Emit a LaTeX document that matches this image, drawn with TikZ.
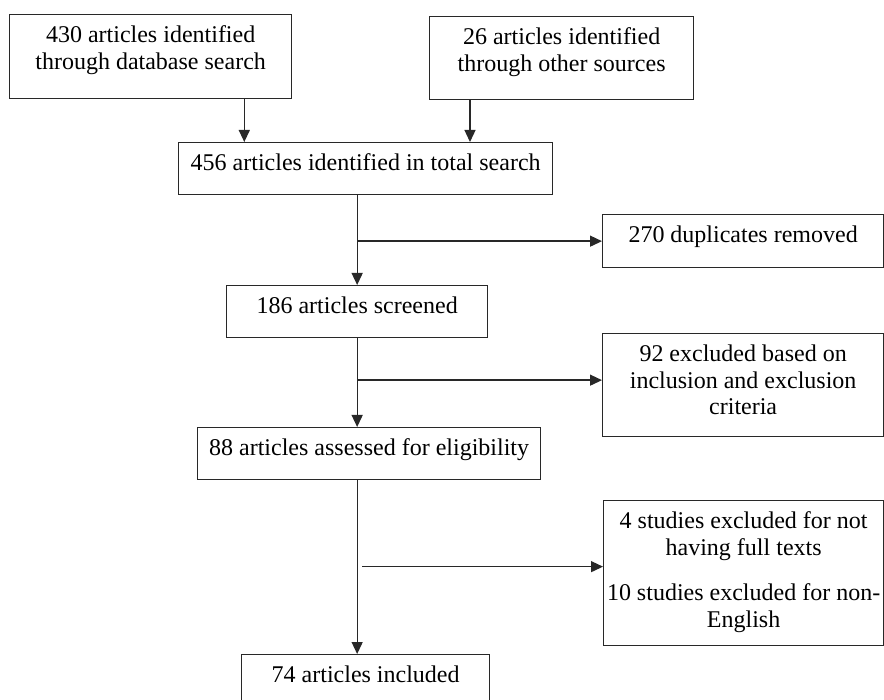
\documentclass[tikz,border=0pt]{standalone}
\usepackage{fontspec}
\setmainfont{Liberation Serif}
\usepackage{tikz}
\usetikzlibrary{arrows.meta,positioning,calc}
\definecolor{fline}{RGB}{40,40,40}
\newcommand{\flowfont}{\fontsize{24pt}{26.5pt}\selectfont}
\newcommand{\flowtext}[3]{\parbox[t][#2][t]{#1}{\centering\rule{0pt}{28pt}#3}}

\begin{document}
\begin{tikzpicture}[
  x=1pt,y=-1pt,
  font=\flowfont,
  box/.style={draw=fline,line width=1.3pt,inner sep=0pt,anchor=north west},
  arr/.style={-{Triangle[length=12pt,width=11pt]},line width=1.3pt,fline},
  ]
  \useasboundingbox (0,0) rectangle (884,700);
  \clip (0,0) rectangle (884,700);
  \node[box] (db)       at (9,14)   {\flowtext{282pt}{84pt}{430 articles identified\\through database search}};
  \node[box] (other)    at (429,16) {\flowtext{264pt}{83pt}{26 articles identified\\through other sources}};
  \node[box] (total)    at (178,142){\flowtext{374pt}{52pt}{456 articles identified in total search}};
  \node[box] (dup)      at (602,214){\flowtext{281pt}{53pt}{270 duplicates removed}};
  \node[box] (screen)   at (226,285){\flowtext{261pt}{52pt}{186 articles screened}};
  \node[box] (excl)     at (602,333){\flowtext{281pt}{103pt}{92 excluded based on\\inclusion and exclusion\\criteria}};
  \node[box] (elig)     at (197,427){\flowtext{343pt}{52pt}{88 articles assessed for eligibility}};
  \node[box] (fulltext) at (603,500){\flowtext{280pt}{145pt}{4 studies excluded for not\\having full texts\\[19pt]10 studies excluded for non-\\English}};
  \node[box] (incl)     at (241,654){\flowtext{248pt}{60pt}{74 articles included}};
  % identification
  \draw[arr] ([xshift=-48pt]db.south east) -- ([xshift=-48pt]db.south east |- total.north);
  \draw[arr] ([xshift=41pt]other.south west) -- ([xshift=41pt]other.south west |- total.north);
  % screening
  \draw[arr] (screen.north |- total.south) -- (screen.north);
  \draw[arr] (screen.north |- dup.west) -- (dup.west);
  \draw[arr] (screen.south) -- (screen.south |- elig.north);
  \coordinate (b2) at ([yshift=5pt]screen.south |- excl.west);
  \draw[arr] (b2) -- (b2 -| excl.west);
  % eligibility
  \draw[arr] (screen.south |- elig.south) -- (screen.south |- incl.north);
  \coordinate (b3) at ([xshift=5pt,yshift=6.5pt]screen.south |- fulltext.west);
  \draw[arr] (b3) -- (b3 -| fulltext.west);
\end{tikzpicture}
\end{document}
